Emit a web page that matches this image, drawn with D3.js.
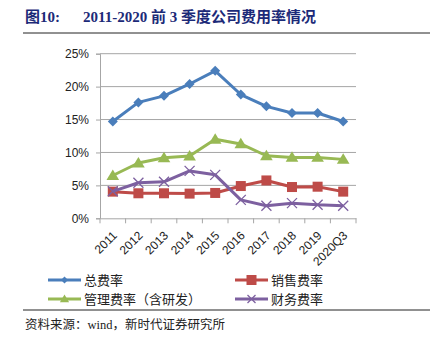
<!DOCTYPE html>
<html><head><meta charset="utf-8">
<script src="https://cdn.jsdelivr.net/npm/d3@7"></script>
<style>body{margin:0;background:#fff;}svg{display:block;}</style>
</head><body>
<script>
const categories = ["2011","2012","2013","2014","2015","2016","2017","2018","2019","2020Q3"];
const totalRate = [14.7,17.6,18.6,20.4,22.4,18.8,17.0,16.0,16.0,14.7];
const salesRate = [4.05,3.8,3.8,3.75,3.85,4.9,5.75,4.75,4.8,4.05];
const mgmtRate = [6.5,8.4,9.2,9.45,12.0,11.3,9.5,9.25,9.25,8.95];
const finRate = [4.1,5.4,5.55,7.2,6.6,2.8,1.9,2.3,2.05,1.9];
const yTicks = [0,5,10,15,20,25];
const seriesNames = ["总费率","销售费率","管理费率（含研发）","财务费率"];
const colors = ["#4a7ebb","#be4b48","#98b954","#7d60a0"];
const shapes = ["diamond","square","triangle","x"];

const svg = d3.select("body").append("svg").attr("width",432).attr("height",341);

// title
const title = svg.append("text").attr("y",22).attr("fill","#1c2a78")
  .style("font-family","'Liberation Serif','Noto Sans CJK SC',serif").style("font-weight","bold").style("font-size","15px");
title.append("tspan").attr("x",25).text("图10:");
title.append("tspan").attr("x",83).text("2011-2020 前 3 季度公司费用率情况");
svg.append("line").attr("x1",23).attr("x2",430).attr("y1",33).attr("y2",33).attr("stroke","#222").attr("stroke-width",1);

const x = d3.scaleBand().domain(categories).range([100,356]);
const y = d3.scaleLinear().domain([0,25]).range([218.3,53.7]);

// gridlines
svg.append("g").selectAll("line").data(yTicks.filter(d=>d>0)).join("line")
  .attr("x1",100).attr("x2",356).attr("y1",d=>y(d)).attr("y2",d=>y(d))
  .attr("stroke","#a6a6a6").attr("stroke-width",1);

// y axis
const ya = svg.append("g").attr("transform","translate(100,0)")
  .call(d3.axisLeft(y).tickValues(yTicks).tickFormat(d=>d+"%").tickSize(4).tickPadding(7));
ya.select(".domain").attr("stroke","#a6a6a6");
ya.selectAll(".tick line").attr("stroke","#a6a6a6");
ya.selectAll("text").style("font-family","'Liberation Sans',Arial,sans-serif").style("font-size","12px").attr("fill","#222");

// x axis
const xa = svg.append("g").attr("transform","translate(0,"+y(0)+")")
  .call(d3.axisBottom(x).tickSize(0).tickFormat(""));
xa.select(".domain").attr("stroke","#a6a6a6");
svg.append("g").selectAll("line").data(d3.range(categories.length+1)).join("line")
  .attr("x1",i=>100+i*x.step()).attr("x2",i=>100+i*x.step())
  .attr("y1",y(0)).attr("y2",y(0)+5).attr("stroke","#a6a6a6");
svg.append("g").selectAll("text").data(categories).join("text")
  .attr("transform",d=>`translate(${x(d)+x.bandwidth()/2+2},${y(0)+15}) rotate(-45)`)
  .attr("text-anchor","end").attr("dy","0.35em")
  .style("font-family","'Liberation Sans',Arial,sans-serif").style("font-size","12px").attr("fill","#222")
  .text(d=>d);

function marker(g, shape, color, s){
  if(shape==="diamond"){
    g.append("path").attr("d",`M0,${-s}L${s},0L0,${s}L${-s},0Z`).attr("fill",color);
  } else if(shape==="square"){
    g.append("rect").attr("x",-s).attr("y",-s).attr("width",2*s).attr("height",2*s).attr("fill",color);
  } else if(shape==="triangle"){
    g.append("path").attr("d",`M0,${-s*1.1}L${s*1.15},${s*0.8}L${-s*1.15},${s*0.8}Z`).attr("fill",color);
  } else {
    g.append("path").attr("d",`M${-s},${-s}L${s},${s}M${-s},${s}L${s},${-s}`).attr("stroke",color).attr("stroke-width",1.3).attr("fill","none");
  }
}

const allSeries = [totalRate,salesRate,mgmtRate,finRate];
const sizes = [5,5,5.5,5];
const line = d3.line().x((d,i)=>x(categories[i])+x.bandwidth()/2).y(d=>y(d));
[0,2,1,3].forEach(k=>{
  const g = svg.append("g");
  g.append("path").datum(allSeries[k]).attr("d",line).attr("fill","none")
    .attr("stroke",colors[k]).attr("stroke-width",3).attr("stroke-linejoin","round");
  allSeries[k].forEach((v,i)=>{
    const m = g.append("g").attr("transform",`translate(${x(categories[i])+x.bandwidth()/2},${y(v)})`);
    marker(m, shapes[k], colors[k], sizes[k]);
  });
});

// legend
const legPos = [[48,280],[235,280],[48,299],[235,299]];
seriesNames.forEach((n,k)=>{
  const [lx,ly] = legPos[k];
  const g = svg.append("g");
  g.append("line").attr("x1",lx).attr("x2",lx+33).attr("y1",ly).attr("y2",ly).attr("stroke",colors[k]).attr("stroke-width",3);
  const m = g.append("g").attr("transform",`translate(${lx+16.5},${ly})`);
  marker(m, shapes[k], colors[k], k===1?5:(k===0?3.5:4));
  g.append("text").attr("x",lx+36).attr("y",ly).attr("dy","0.35em")
    .style("font-family","'Noto Sans CJK SC',sans-serif").style("font-size","13px").attr("fill","#222").text(n);
});

svg.append("line").attr("x1",23).attr("x2",430).attr("y1",310).attr("y2",310).attr("stroke","#222").attr("stroke-width",1);
svg.append("text").attr("x",25).attr("y",329)
  .style("font-family","'Liberation Serif','Noto Sans CJK SC',serif").style("font-size","12.5px").attr("fill","#222")
  .text("资料来源：wind，新时代证券研究所");
</script>
</body></html>
